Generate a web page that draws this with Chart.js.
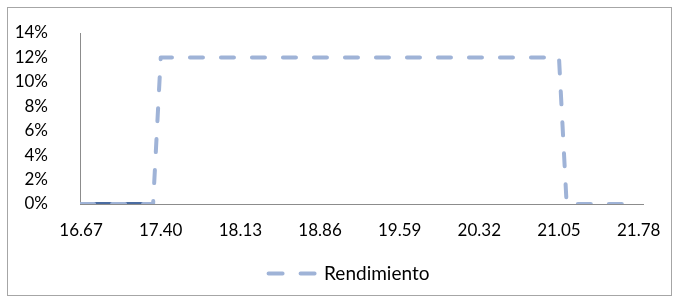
<!DOCTYPE html>
<html><head><meta charset="utf-8">
<script src="https://cdn.jsdelivr.net/npm/chart.js@4.4.1/dist/chart.umd.min.js"></script>
<style>html,body{margin:0;padding:0;background:#fff;}#wrap{width:674px;height:298px;position:relative;}</style>
</head><body>
<div id="wrap"><canvas id="c" width="674" height="298"></canvas></div>
<script>
// ---- data ----
const seriesName = 'Rendimiento';
const xTickValues = [16.67, 17.40, 18.13, 18.86, 19.59, 20.32, 21.05, 21.78];
const yTickValues = [0, 0.02, 0.04, 0.06, 0.08, 0.10, 0.12, 0.14];
const rendX = [16.67, 17.33, 17.40, 21.05, 21.12, 21.78];
const rendY = [0, 0, 0.12, 0.12, 0, 0];
const baseX = [16.67, 17.33];
const baseY = [0, 0];

const lightColor = '#9fb3d7';
const darkColor = '#4a6ca1';
const axisColor = '#8c8c8c';
const fontFamily = 'Lato, "Liberation Sans", sans-serif';
const legendCenterX = 349;

const toPts = (xs, ys) => xs.map((x, i) => ({x: x, y: ys[i]}));

const frame = {
  id: 'frame',
  beforeDraw(chart) {
    const ctx = chart.ctx;
    ctx.save();
    ctx.fillStyle = '#fff';
    ctx.fillRect(0, 0, chart.width, chart.height);
    ctx.strokeStyle = '#a6a6a6';
    ctx.lineWidth = 1;
    ctx.strokeRect(7.5, 7.5, 664, 288);
    ctx.restore();
  },
  afterLayout(chart) {
    const lg = chart.legend;
    if (!lg) return;
    const dx = legendCenterX - (lg.left + lg.right) / 2;
    lg.left += dx;
    lg.right += dx;
  }
};

new Chart(document.getElementById('c'), {
  type: 'line',
  data: {
    datasets: [
      {
        label: seriesName,
        data: toPts(rendX, rendY),
        borderColor: lightColor,
        backgroundColor: lightColor,
        borderWidth: 4,
        borderDash: [13, 18],
        borderCapStyle: 'round',
        borderJoinStyle: 'round',
        pointRadius: 0,
        tension: 0,
        fill: false
      },
      {
        label: '_base',
        data: toPts(baseX, baseY),
        borderColor: darkColor,
        backgroundColor: darkColor,
        borderWidth: 4,
        pointRadius: 0,
        tension: 0,
        fill: false
      }
    ]
  },
  options: {
    responsive: false,
    animation: false,
    layout: { padding: { left: 10, right: 31, top: 33, bottom: 5 } },
    scales: {
      x: {
        type: 'linear',
        min: 16.66,
        max: 21.82,
        grid: { display: false, drawTicks: false },
        border: { display: true, color: axisColor, width: 1 },
        afterBuildTicks: s => { s.ticks = xTickValues.map(v => ({value: v})); },
        afterFit: s => { s.height = 50; s.paddingLeft = 0; s.paddingRight = 0; },
        ticks: {
          padding: 16,
          color: '#000',
          font: { family: fontFamily, size: 17 },
          maxRotation: 0,
          autoSkip: false,
          callback: v => Number(v).toFixed(2)
        }
      },
      y: {
        min: 0,
        max: 0.14,
        grid: { display: false, drawTicks: false },
        border: { display: true, color: axisColor, width: 1 },
        afterBuildTicks: s => { s.ticks = yTickValues.map(v => ({value: v})); },
        afterFit: s => { s.width = 70; s.paddingTop = 0; s.paddingBottom = 0; },
        ticks: {
          padding: 32,
          autoSkip: false,
          color: '#000',
          font: { family: fontFamily, size: 17 },
          callback: v => Math.round(v * 100) + '%'
        }
      }
    },
    plugins: {
      tooltip: { enabled: false },
      legend: {
        position: 'bottom',
        labels: {
          padding: 10,
          color: '#000',
          font: { family: fontFamily, size: 19 },
          usePointStyle: true,
          pointStyleWidth: 46,
          generateLabels: chart => [{
            text: seriesName,
            fillStyle: lightColor,
            strokeStyle: lightColor,
            lineWidth: 4,
            lineDash: [14, 18],
            lineCap: 'round',
            pointStyle: 'line',
            hidden: false,
            datasetIndex: 0,
            fontColor: '#000'
          }]
        }
      }
    }
  },
  plugins: [frame]
});
</script>
</body></html>
